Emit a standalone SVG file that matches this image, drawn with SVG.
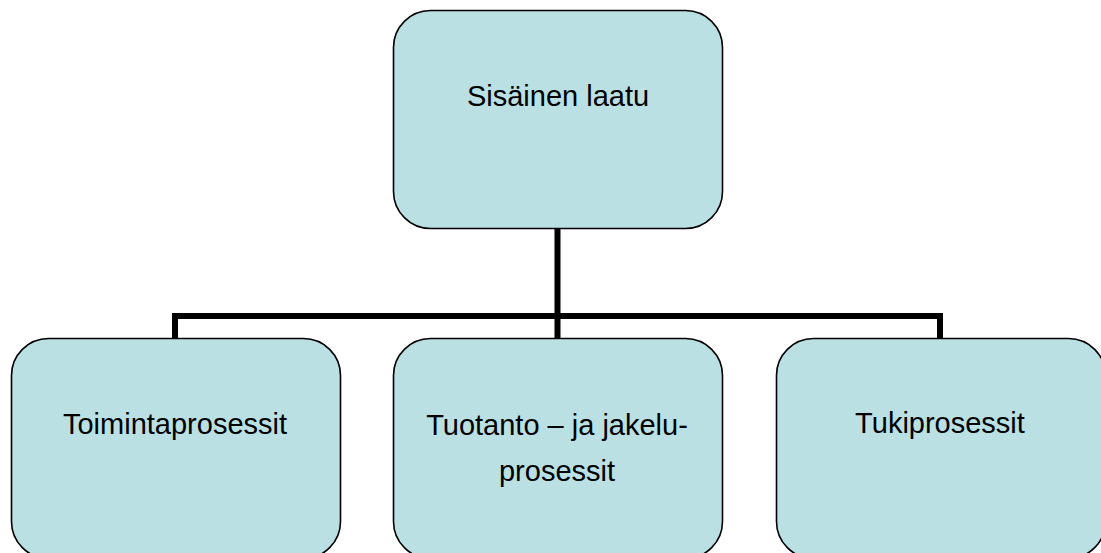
<svg xmlns="http://www.w3.org/2000/svg" width="1101" height="553" viewBox="0 0 1101 553">
<style>
.box{fill:#BAE0E4;stroke:#000;stroke-width:1.6}
.lbl{font-family:"Liberation Sans",Arial,sans-serif;font-size:29px;fill:#000;text-anchor:middle}
.conn{fill:none;stroke:#000;stroke-width:6}
</style>
<rect width="1101" height="553" fill="#fff"/>
<g id="connectors">
<path class="conn" d="M557.5,229 V316 M175,338 V316 H940 V338 M557.5,316 V338"/>
</g>
<g id="node-top">
<rect class="box" x="393.5" y="10.5" width="329" height="218" rx="37"/>
<text class="lbl" x="558" y="106">Sisäinen laatu</text>
</g>
<g id="node-left">
<rect class="box" x="11.5" y="338.5" width="329" height="220" rx="37"/>
<text class="lbl" x="175" y="434">Toimintaprosessit</text>
</g>
<g id="node-middle">
<rect class="box" x="393.5" y="338.5" width="329" height="220" rx="37"/>
<text class="lbl" x="557" y="435">Tuotanto – ja jakelu-</text>
<text class="lbl" x="557" y="481">prosessit</text>
</g>
<g id="node-right">
<rect class="box" x="776.5" y="338.5" width="329" height="220" rx="37"/>
<text class="lbl" x="940" y="433">Tukiprosessit</text>
</g>
</svg>
